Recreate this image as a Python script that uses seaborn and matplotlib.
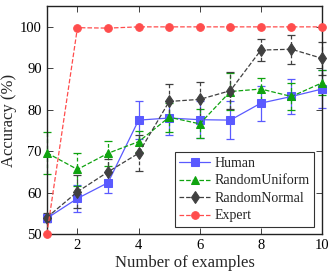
import matplotlib
matplotlib.use("Agg")
import matplotlib.pyplot as plt
import seaborn as sns
import pandas as pd

examples = [1, 2, 3, 4, 5, 6, 7, 8, 9, 10]

human = [53.8, 58.6, 62.4, 77.5, 78.0, 77.6, 77.5, 81.6, 83.2, 85.0]
human_err = [1.0, 3.2, 2.5, 4.5, 4.0, 4.5, 4.5, 4.2, 4.3, 4.6]

rand_uniform = [69.6, 65.6, 69.5, 72.3, 78.2, 76.6, 84.4, 85.0, 83.2, 86.5]
rand_uniform_err = [5.0, 4.0, 3.0, 2.5, 3.5, 3.5, 4.5, 2.7, 3.2, 3.0]

rand_normal = [54.0, 60.2, 65.0, 69.5, 82.0, 82.5, 84.6, 94.4, 94.6, 92.4]
rand_normal_err = [1.2, 4.0, 3.0, 4.3, 4.2, 4.3, 4.4, 2.7, 3.5, 4.0]

expert = [50.0, 99.8, 99.7, 100.0, 100.0, 100.0, 100.0, 100.0, 100.0, 100.0]

series = [
    ("Human", human, human_err, "#5a5aff", "-", "s", 5.5),
    ("RandomUniform", rand_uniform, rand_uniform_err, "#0fa30f", "--", "^", 6),
    ("RandomNormal", rand_normal, rand_normal_err, "#404040", "--", "d", 6.5),
    ("Expert", expert, None, "#ff4d4d", "--", "o", 5.5),
]

sns.set_style("ticks")
plt.rcParams["font.family"] = ["Liberation Serif", "DejaVu Serif"]

fig = plt.figure(figsize=(3.3, 2.79), dpi=100)
ax = fig.add_axes([0.142, 0.161, 0.834, 0.817])

for name, vals, err, color, ls, mk, ms in series:
    df = pd.DataFrame({"x": examples, "y": vals})
    sns.lineplot(data=df, x="x", y="y", ax=ax, color=color, linestyle=ls,
                 marker=mk, markersize=ms, markeredgecolor=color,
                 linewidth=0.9, label=name, clip_on=False, zorder=3)
    if err is not None:
        eb = ax.errorbar(examples, vals, yerr=err, fmt="none", ecolor=color,
                         elinewidth=0.9, capsize=3, capthick=0.9, zorder=2,
                         clip_on=False)
        if ls == "--":
            for lc in eb[2]:
                lc.set_linestyle((0, (3, 2)))

ax.set_xlim(1, 10)
ax.set_ylim(50, 105)
ax.set_xticks([2, 4, 6, 8, 10])
ax.set_yticks([50, 60, 70, 80, 90, 100])
ax.tick_params(direction="in", top=True, right=True, labelsize=10.5,
               length=4, width=0.6, colors="#222222")
ax.tick_params(labelcolor="black")
for sp in ax.spines.values():
    sp.set_visible(True)
    sp.set_linewidth(1.0)
    sp.set_color("#222222")

ax.set_xlabel("Number of examples", fontsize=12, labelpad=2)
ax.set_ylabel("Accuracy (%)", fontsize=12, labelpad=2)

leg = ax.legend(loc="lower right", bbox_to_anchor=(0.971, 0.03), fontsize=10,
                frameon=True, fancybox=False, edgecolor="black",
                handlelength=2.2, handletextpad=0.3, borderpad=0.35,
                labelspacing=0.32, borderaxespad=0)
leg.get_frame().set_linewidth(0.8)

fig.savefig("out.png", dpi=100)
